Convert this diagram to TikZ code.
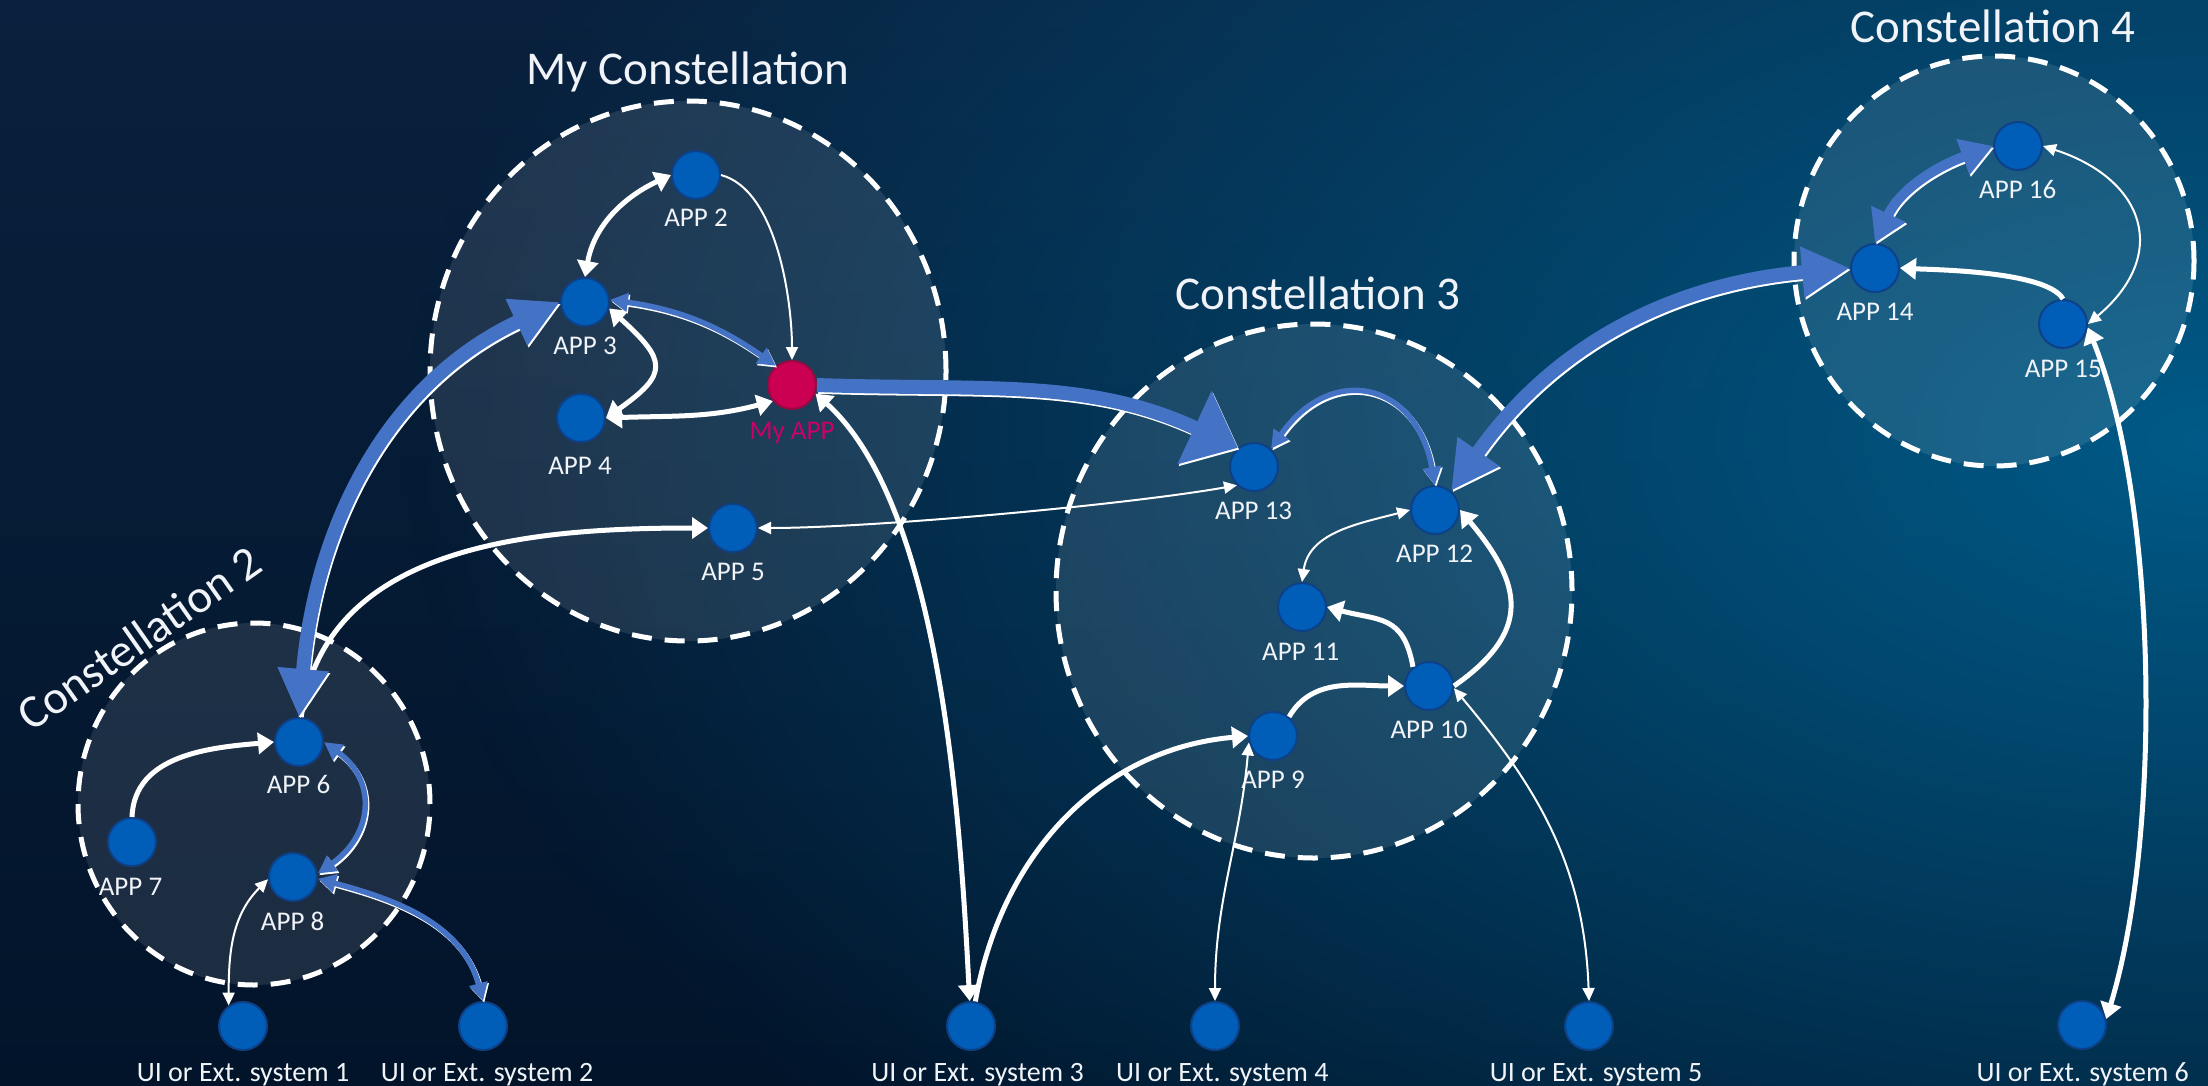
\documentclass[tikz,border=0pt]{standalone}
\usepackage{fontspec}
\setmainfont{Carlito}
\usetikzlibrary{arrows.meta,fadings}
\definecolor{bgtop}{RGB}{9,33,62}
\definecolor{bgbot}{RGB}{2,20,42}
\definecolor{glowc}{RGB}{0,90,135}
\definecolor{nodeblue}{RGB}{0,94,184}
\definecolor{nodeedge}{RGB}{14,64,135}
\definecolor{myapp}{RGB}{204,0,82}
\definecolor{myappedge}{RGB}{150,10,65}
\definecolor{myapptext}{RGB}{204,0,102}
\definecolor{linkblue}{RGB}{68,114,196}
\definecolor{txt}{RGB}{240,243,248}
\tikzfading[name=glowfade, inner color=transparent!0, outer color=transparent!100]
\newcommand\blueconn[2]{%
  \draw[#1,draw=white,transform canvas={shift={(1.3pt,-1.8pt)}}] #2;
  \draw[#1] #2;}
\begin{document}
\begin{tikzpicture}[x=1pt,y=1pt,
  app/.style={circle,fill=nodeblue,draw=nodeedge,line width=2pt,minimum size=48pt,inner sep=0pt},
  lbl/.style={text=txt,font=\fontsize{27}{32}\selectfont,anchor=base,inner sep=0pt},
  ulbl/.style={lbl,font=\fontsize{28}{32}\selectfont},
  ttl/.style={text=txt,font=\fontsize{47}{56}\selectfont,anchor=base,inner sep=0pt},
  constel/.style={fill=white,fill opacity=0.1,draw=white,line width=5pt,dash pattern=on 20pt off 13pt},
  wk/.style={draw=white,line width=5pt,>={Triangle[length=16pt,width=21pt]}},
  wn/.style={draw=white,line width=2pt,>={Triangle[length=13pt,width=12pt]}},
  bm/.style={draw=linkblue,line width=5.5pt,>={Triangle[length=18pt,width=18pt]}},
  bh/.style={draw=linkblue,line width=10pt,>={Triangle[length=32pt,width=36pt]}},
  bb/.style={draw=linkblue,line width=14pt,>={Triangle[length=48pt,width=48pt]}},
  bbw/.style={draw=linkblue,line width=14pt,>={Triangle[length=48pt,width=78pt]}},
]
\useasboundingbox (0,0) rectangle (2208,-1086);
\clip (0,0) rectangle (2208,-1086);
% background
\shade[top color=bgtop,bottom color=bgbot] (0,0) rectangle (2208,-1086);
\fill[glowc,path fading=glowfade] (2208,-440) ellipse [x radius=1800,y radius=1050];

% constellations
\draw[constel] (688,-371) ellipse [x radius=258,y radius=270];
\draw[constel] (1314,-591) ellipse [x radius=258,y radius=267];
\draw[constel] (254,-804) ellipse [x radius=176,y radius=181];
\draw[constel] (1994,-261) ellipse [x radius=200,y radius=205];

% titles
\node[ttl] (T1) at (688,-85) {My Constellation};
\node[ttl] (T3) at (1318,-309) {Constellation 3};
\node[ttl] (T4) at (1993,-43) {Constellation 4};
\node[ttl,anchor=center,rotate=35] (T2) at (139,-638) {Constellation 2};

% apps
\node[app] (APP2) at (696,-175) {};
\node[app] (APP3) at (585,-302) {};
\node[app] (APP4) at (581,-418) {};
\node[app,fill=myapp,draw=myappedge] (MyAPP) at (792,-385) {};
\node[app] (APP5) at (733,-528) {};
\node[app] (APP6) at (299,-742) {};
\node[app] (APP7) at (132,-842) {};
\node[app] (APP8) at (293,-877) {};
\node[app] (APP9) at (1273,-736) {};
\node[app] (APP10) at (1429,-686) {};
\node[app] (APP11) at (1302,-607) {};
\node[app] (APP12) at (1435,-510) {};
\node[app] (APP13) at (1254,-467) {};
\node[app] (APP14) at (1875,-268) {};
\node[app] (APP15) at (2063,-324) {};
\node[app] (APP16) at (2018,-146) {};
\node[app] (UI1) at (243,-1026) {};
\node[app] (UI2) at (483,-1026) {};
\node[app] (UI3) at (971,-1026) {};
\node[app] (UI4) at (1215,-1026) {};
\node[app] (UI5) at (1589,-1026) {};
\node[app] (UI6) at (2082,-1025) {};

% labels
\node[lbl] (L2) at (696,-226.5) {APP 2};
\node[lbl] (L3) at (585,-354.5) {APP 3};
\node[lbl] (L4) at (580,-474.5) {APP 4};
\node[lbl,text=myapptext] (LMy) at (792,-439) {My APP};
\node[lbl] (L5) at (733,-580) {APP 5};
\node[lbl] (L6) at (298.5,-793.5) {APP 6};
\node[lbl] (L7) at (130.5,-895) {APP 7};
\node[lbl] (L8) at (292.6,-930) {APP 8};
\node[lbl] (L9) at (1273,-788) {APP 9};
\node[lbl] (L10) at (1429,-738.5) {APP 10};
\node[lbl] (L11) at (1300.7,-660) {APP 11};
\node[lbl] (L12) at (1434.6,-562) {APP 12};
\node[lbl] (L13) at (1253.6,-519) {APP 13};
\node[lbl] (L14) at (1875,-320) {APP 14};
\node[lbl] (L15) at (2063.3,-377) {APP 15};
\node[lbl] (L16) at (2017.7,-198.5) {APP 16};
\node[ulbl] (LU1) at (243,-1081) {UI or Ext. system 1};
\node[ulbl] (LU2) at (487,-1081) {UI or Ext. system 2};
\node[ulbl] (LU3) at (977.5,-1081) {UI or Ext. system 3};
\node[ulbl] (LU4) at (1222.4,-1081) {UI or Ext. system 4};
\node[ulbl] (LU5) at (1596,-1081) {UI or Ext. system 5};
\node[ulbl] (LU6) at (2082.7,-1081) {UI or Ext. system 6};

% My Constellation links
\draw[wk,<->] (APP3.north) to[out=80,in=205] (APP2.west);
\draw[wn,->] (APP2.east) to[out=-15,in=90,looseness=0.75] (MyAPP.north);
\draw[wk,<->] (APP3.-15) to[out=-42,in=35,looseness=1.8] (APP4.east);
\blueconn{bm,<->}{(APP3.5) to[out=-8,in=145] (MyAPP.130)}
\draw[wk,<->] (APP4.east) to[out=2,in=195] (MyAPP.220);
\draw[wk,->] (APP6.85) to[out=82,in=180] (APP5.west);
\draw[wk,<->] (MyAPP.-20) to[out=-42,in=93,looseness=0.7] (UI3.93);
\draw[wn,<->] (APP13.227) to[out=190,in=0,looseness=0.6] (APP5.east);
\blueconn{bb,<->}{(APP6.north) to[out=85,in=205] (APP3.west)}
\blueconn{bbw,->}{(MyAPP.east) to[out=-2,in=155] (APP13.130)}

% Constellation 2 links
\draw[wk,->] (APP7.north) to[out=88,in=185] (APP6.west);
\blueconn{bm,<->}{(APP6.east) to[out=-36,in=35,looseness=1.3] (APP8.8)}
\draw[wn,<->] (APP8.185) to[out=225,in=90] (UI1.125);
\blueconn{bm,<->}{(APP8.-4) to[out=-15,in=105] (UI2.north)}

% Constellation 3 links
\blueconn{bm,<->}{(APP13.47) to[out=55,in=100,looseness=1.6] (APP12.north)}
\draw[wn,<->] (APP12.west) to[out=195,in=82] (APP11.north);
\draw[wk,->] (APP10.130) to[out=100,in=-15,looseness=1.3] (APP11.east);
\draw[wk,->] (APP10.east) to[out=35,in=-50,looseness=1.4] (APP12.east);
\draw[wk,->] (APP9.50) to[out=60,in=180] (APP10.west);
\draw[wk,->] (UI3.80) to[out=80,in=185] (APP9.west);
\draw[wn,<->] (APP9.195) to[out=-95,in=90] (UI4.north);
\draw[wn,<->] (APP10.-5) to[out=-50,in=92] (UI5.north);

% Constellation 4 links
\blueconn{bh,<->}{(APP14.north) to[out=65,in=200] (APP16.west)}
\draw[wk,->] (APP15.north) to[out=120,in=-3,looseness=0.5] (APP14.east);
\draw[wn,<->] (APP16.east) to[out=-18,in=40,looseness=1.5] (APP15.east);
\draw[wk,<->] (APP15.-8) to[out=-68,in=73,looseness=0.7] (UI6.14);
\blueconn{bb,<->}{(APP14.west) to[out=185,in=55] (APP12.50)}
\end{tikzpicture}
\end{document}
